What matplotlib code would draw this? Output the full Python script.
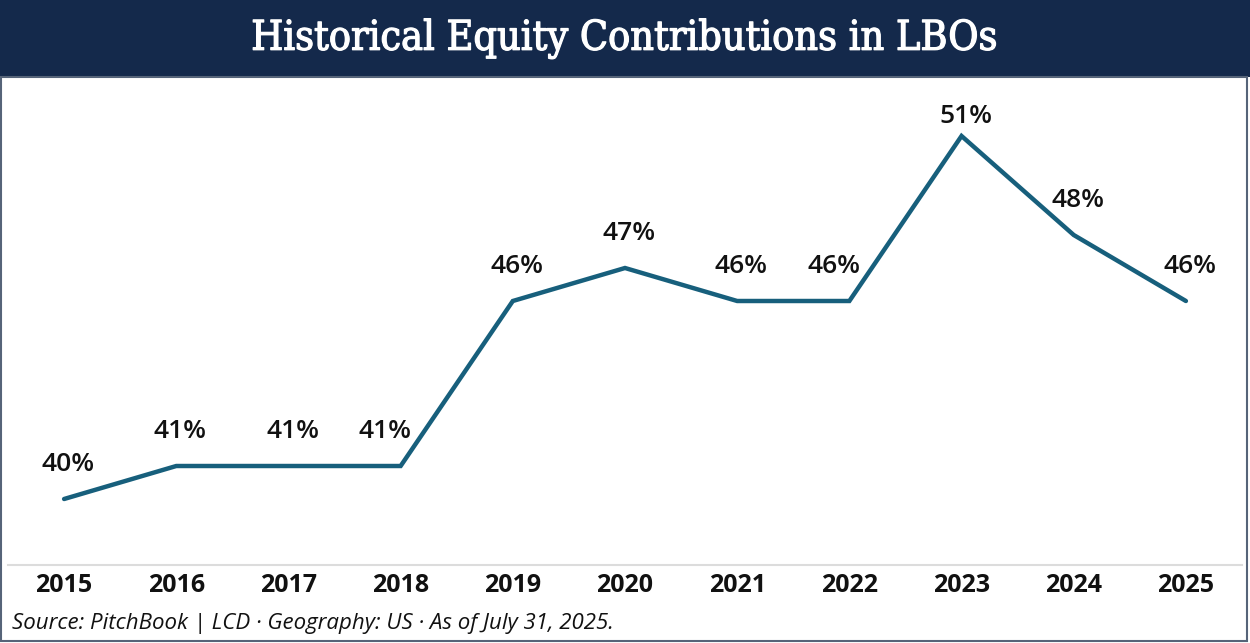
import matplotlib.pyplot as plt
import matplotlib.patheffects as pe
from matplotlib.patches import Rectangle

years = ['2015', '2016', '2017', '2018', '2019', '2020', '2021', '2022', '2023', '2024', '2025']
equity = [40, 41, 41, 41, 46, 47, 46, 46, 51, 48, 46]
labels = ['40%', '41%', '41%', '41%', '46%', '47%', '46%', '46%', '51%', '48%', '46%']

W, H = 1250, 643
fig = plt.figure(figsize=(W / 100, H / 100), dpi=100)
fig.patch.set_facecolor('white')

# title bar
fig.patches.append(Rectangle((0, (H - 77) / H), 1, 77 / H, transform=fig.transFigure,
                             facecolor='#14294b', edgecolor='none', zorder=0))
fig.text(0.5, (H - 39) / H, 'Historical Equity Contributions in LBOs', color='white',
         family='DejaVu Serif', fontstretch='condensed', fontsize=29.5,
         ha='center', va='center',
         path_effects=[pe.withStroke(linewidth=0.9, foreground='white')])

# frame around the white area
fig.patches.append(Rectangle((1.5 / W, 2 / H), (W - 4.5) / W, (H - 79) / H, transform=fig.transFigure,
                             facecolor='none', edgecolor='#566479', lw=1.5, zorder=5))

ax_top, ax_bot = 80, 565
ax = fig.add_axes([8 / W, (H - ax_bot) / H, 1234 / W, (ax_bot - ax_top) / H])
ax.set_facecolor('none')
ppv = 33.0  # pixels per percentage point
ax.set_ylim(38, 38 + (ax_bot - ax_top) / ppv)
ax.set_xlim(-0.5, 10.5)

x = list(range(len(years)))
ax.plot(x, equity, color='#175f7c', lw=3.2, solid_capstyle='round', solid_joinstyle='miter')

for i, (v, t) in enumerate(zip(equity, labels)):
    dy = 14 if v == max(equity) else 25
    dx = 3
    # nudge left before a steep climb so the label clears the line
    if i + 1 < len(equity) and equity[i + 1] - v >= 3:
        dx = -11
    ax.annotate(t, (i, v), xytext=(dx, dy), textcoords='offset points', ha='center', va='center',
                family='Open Sans', fontweight='semibold', fontsize=19, color='#111111')

ax.set_xticks(x)
ax.set_xticklabels(years, family='Open Sans', fontweight='bold', fontsize=18, color='#111111')
ax.tick_params(axis='x', length=0, pad=6)
ax.set_yticks([])
for s in ['top', 'left', 'right']:
    ax.spines[s].set_visible(False)
ax.spines['bottom'].set_color('#dcdcdc')
ax.spines['bottom'].set_linewidth(1.5)

fig.text(12 / W, (H - 623) / H, 'Source: PitchBook | LCD · Geography: US · As of July 31, 2025.',
         family='Open Sans', style='italic', fontsize=16, color='#111111', ha='left', va='center')

fig.savefig('out.png', dpi=100)
